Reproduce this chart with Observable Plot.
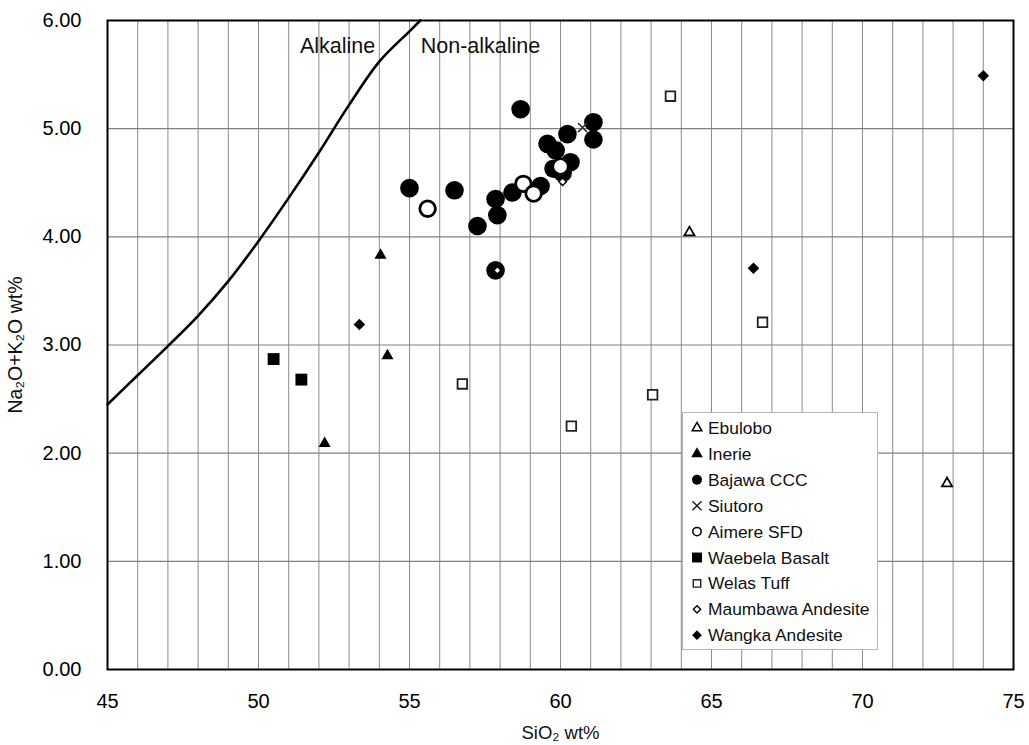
<!DOCTYPE html>
<html>
<head>
<meta charset="utf-8">
<script src="https://cdn.jsdelivr.net/npm/d3@7"></script>
<script src="https://cdn.jsdelivr.net/npm/@observablehq/plot@0.6"></script>
<style>
  html, body { margin: 0; padding: 0; background: white; }
  #wrap { position: relative; width: 1029px; height: 745px; }
  #legend { position: absolute; left: 682px; top: 412px; }
</style>
</head>
<body>
<div id="wrap"></div>
<script>
// ---------- data ----------
const seriesNames = ["Ebulobo", "Inerie", "Bajawa CCC", "Siutoro", "Aimere SFD",
  "Waebela Basalt", "Welas Tuff", "Maumbawa Andesite", "Wangka Andesite"];

const ebuloboSi = [64.27, 72.80];
const ebuloboAlk = [4.04, 1.72];

const inerieSi = [54.04, 54.27, 52.19];
const inerieAlk = [3.83, 2.90, 2.09];

const bajawaSi = [58.68, 55.00, 56.49, 57.25, 57.85, 57.91, 58.41, 57.85, 61.09, 61.09,
  60.23, 59.57, 59.84, 60.33, 59.77, 59.34, 60.07];
const bajawaAlk = [5.18, 4.45, 4.43, 4.10, 4.35, 4.20, 4.41, 3.69, 5.06, 4.90,
  4.95, 4.86, 4.80, 4.69, 4.63, 4.47, 4.59];

const siutoroSi = [60.73];
const siutoroAlk = [5.01];

const aimereSi = [55.60, 58.77, 59.11, 60.00];
const aimereAlk = [4.26, 4.49, 4.40, 4.65];

const waebelaSi = [50.50, 51.42];
const waebelaAlk = [2.87, 2.68];

const welasSi = [63.64, 66.69, 56.75, 60.36, 63.05];
const welasAlk = [5.30, 3.21, 2.64, 2.25, 2.54];

const maumbawaSi = [57.91, 60.07];
const maumbawaAlk = [3.69, 4.51];

const wangkaSi = [53.34, 66.39, 74.00];
const wangkaAlk = [3.19, 3.71, 5.49];

// Alkaline / non-alkaline dividing curve
const boundarySi = [45, 46, 47, 48, 49, 50, 51, 52, 53, 54, 55, 55.36];
const boundaryAlk = [2.45, 2.72, 2.99, 3.27, 3.59, 3.96, 4.36, 4.78, 5.22, 5.62, 5.90, 6.00];

const regionLabels = ["Alkaline", "Non-alkaline"];
const regionSi = [52.62, 57.35];
const regionAlk = [5.76, 5.76];

const xTickValues = [45, 50, 55, 60, 65, 70, 75];
const xGridValues = [46, 47, 48, 49, 50, 51, 52, 53, 54, 55, 56, 57, 58, 59, 60,
  61, 62, 63, 64, 65, 66, 67, 68, 69, 70, 71, 72, 73, 74];
const yTickValues = [0, 1, 2, 3, 4, 5, 6];
const yGridValues = [1, 2, 3, 4, 5];

const xTitle = "SiO₂ wt%";
const yTitle = "Na₂O+K₂O wt%";

// ---------- build tables ----------
const zip = (xs, ys) => xs.map((x, i) => ({x, y: ys[i]}));
const boundary = zip(boundarySi, boundaryAlk);
const labels = regionLabels.map((t, i) => ({t, x: regionSi[i], y: regionAlk[i]}));

const FONT = "'Liberation Sans', Arial, Helvetica, sans-serif";

const chart = Plot.plot({
  width: 1029,
  height: 745,
  marginLeft: 107,
  marginRight: 16,
  marginTop: 20,
  marginBottom: 76,
  x: {domain: [45, 75]},
  y: {domain: [0, 6]},
  style: {fontFamily: FONT, fontSize: "20px", color: "#000", background: "white"},
  marks: [
    Plot.gridX(xGridValues, {stroke: "#8c8c8c", strokeOpacity: 1, strokeWidth: 1}),
    Plot.gridY(yGridValues, {stroke: "#808080", strokeOpacity: 1, strokeWidth: 1.2}),
    Plot.axisX(xTickValues, {tickSize: 0, tickPadding: 24, label: null, fontSize: 20}),
    Plot.axisY(yTickValues, {tickSize: 0, tickPadding: 26, label: null, fontSize: 20,
      tickFormat: d => d.toFixed(2)}),
    Plot.line(boundary, {x: "x", y: "y", stroke: "black", strokeWidth: 2.6, curve: "catmull-rom"}),
    Plot.text(labels, {x: "x", y: "y", text: "t", fontSize: 21.5, fill: "#111"}),
    Plot.dot(zip(waebelaSi, waebelaAlk), {x: "x", y: "y", symbol: "square", r: 6.7, fill: "black"}),
    Plot.dot(zip(inerieSi, inerieAlk), {x: "x", y: "y", symbol: "triangle", r: 4.5, fill: "black"}),
    Plot.dot(zip(ebuloboSi, ebuloboAlk), {x: "x", y: "y", symbol: "triangle", r: 3.8, fill: "white", stroke: "black", strokeWidth: 1.7}),
    Plot.dot(zip(welasSi, welasAlk), {x: "x", y: "y", symbol: "square", r: 5.4, fill: "white", stroke: "#222", strokeWidth: 1.8}),
    Plot.dot(zip(wangkaSi, wangkaAlk), {x: "x", y: "y", symbol: "diamond2", r: 5.2, fill: "black"}),
    Plot.dot(zip(bajawaSi, bajawaAlk), {x: "x", y: "y", symbol: "circle", r: 9.3, fill: "black"}),
    Plot.dot(zip(siutoroSi, siutoroAlk), {x: "x", y: "y", symbol: "times", r: 4.2, stroke: "#333", strokeWidth: 1.6}),
    Plot.dot(zip(aimereSi, aimereAlk), {x: "x", y: "y", symbol: "circle", r: 7.8, fill: "white", stroke: "black", strokeWidth: 2.8}),
    Plot.dot(zip(maumbawaSi, maumbawaAlk), {x: "x", y: "y", symbol: "diamond2", r: 3.4, fill: "white", stroke: "black", strokeWidth: 1.5}),
    Plot.frame({stroke: "black", strokeWidth: 2}),
    Plot.text([xTitle], {frameAnchor: "bottom", dy: 64, lineAnchor: "middle", textAnchor: "middle", fontSize: 18.5, fill: "#111"}),
    Plot.text([yTitle], {frameAnchor: "left", dx: -92, rotate: -90, lineAnchor: "middle", textAnchor: "middle", fontSize: 19.5, fill: "#111"})
  ]
});

const wrap = document.getElementById("wrap");
wrap.appendChild(chart);

// ---------- legend ----------
const legendStyle = {
  "Ebulobo": {sym: d3.symbolTriangle, r: 3.6, fill: "white", stroke: "black", sw: 1.5},
  "Inerie": {sym: d3.symbolTriangle, r: 4.3, fill: "black", stroke: "none", sw: 0},
  "Bajawa CCC": {sym: d3.symbolCircle, r: 5, fill: "black", stroke: "none", sw: 0},
  "Siutoro": {sym: d3.symbolTimes, r: 4.2, fill: "none", stroke: "#222", sw: 1.5},
  "Aimere SFD": {sym: d3.symbolCircle, r: 4.2, fill: "white", stroke: "black", sw: 1.5},
  "Waebela Basalt": {sym: d3.symbolSquare, r: 5.6, fill: "black", stroke: "none", sw: 0},
  "Welas Tuff": {sym: d3.symbolSquare, r: 4.2, fill: "white", stroke: "#222", sw: 1.4},
  "Maumbawa Andesite": {sym: d3.symbolDiamond2, r: 3.3, fill: "white", stroke: "black", sw: 1.4},
  "Wangka Andesite": {sym: d3.symbolDiamond2, r: 4.4, fill: "black", stroke: "none", sw: 0}
};
const LW = 196, LH = 238;
const lg = d3.select(wrap).append("svg")
  .attr("id", "legend").attr("width", LW).attr("height", LH)
  .style("font-family", FONT);
lg.append("rect").attr("x", 0.5).attr("y", 0.5).attr("width", LW - 1).attr("height", LH - 1)
  .attr("fill", "white").attr("stroke", "#b5b5b5").attr("stroke-width", 1);
seriesNames.forEach((name, i) => {
  const s = legendStyle[name];
  const cy = 16 + i * 25.9;
  lg.append("path")
    .attr("d", d3.symbol(s.sym, Math.PI * s.r * s.r)())
    .attr("transform", `translate(15,${cy})`)
    .attr("fill", s.fill).attr("stroke", s.stroke).attr("stroke-width", s.sw);
  lg.append("text").attr("x", 26).attr("y", cy).attr("dy", "0.35em")
    .attr("font-size", 17.4).attr("fill", "#111").text(name);
});
</script>
</body>
</html>
